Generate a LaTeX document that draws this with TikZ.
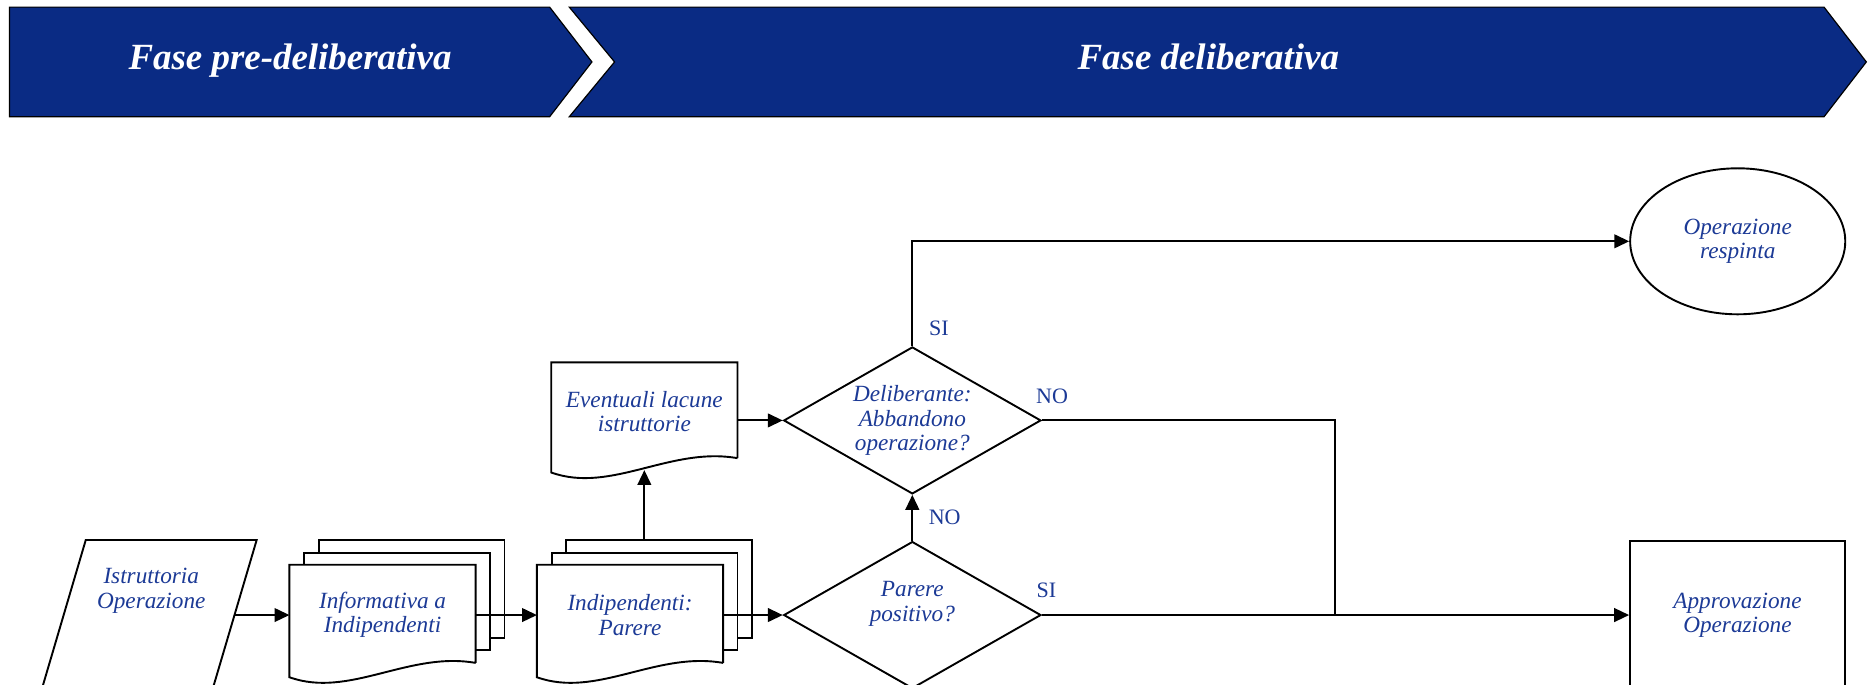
\documentclass[tikz,border=0pt]{standalone}
\usepackage{fontspec}
\setmainfont{Liberation Serif}
\usepackage{tikz}
\usetikzlibrary{shapes,arrows.meta,positioning,calc}
\definecolor{navy}{RGB}{10,43,132}
\definecolor{txtblue}{RGB}{28,58,150}
\tikzstyle{line} = [draw, line width=1.6pt]
\tikzstyle{arr} = [line, -{Triangle[length=12.5pt,width=11.5pt]}]
\tikzstyle{phase} = [fill=navy, draw=black, line width=1pt]
\tikzstyle{phasetext} = [text=white, font=\fontsize{31}{33}\selectfont\bfseries\itshape, inner sep=0pt, anchor=base]
\tikzstyle{flow} = [text=txtblue, font=\fontsize{19.5}{20.5}\selectfont\itshape, align=center, inner sep=0pt]
\tikzstyle{doc} = [flow, fill=white, minimum width=156pt, minimum height=84pt]
\tikzstyle{sheet} = [line, fill=white, minimum width=156pt, minimum height=82pt, inner sep=0pt]
\tikzstyle{decision} = [flow, line, diamond, aspect=1.75, minimum width=216pt, minimum height=123.4pt]
\tikzstyle{lbl} = [text=txtblue, font=\fontsize{18.5}{20}\selectfont, inner sep=0pt, anchor=base west]
\tikzset{>=latex}
\newcommand{\docline}[1]{%
  \draw[line] ([yshift=2pt]#1.south east) -- (#1.north east) -- (#1.north west) -- ([yshift=-10pt]#1.south west)
    .. controls ($(#1.south west)!0.32!(#1.south east)+(0pt,-28pt)$) and ($(#1.south west)!0.64!(#1.south east)+(0pt,12pt)$) .. ([yshift=2pt]#1.south east);}

\begin{document}
\begin{tikzpicture}[x=1pt, y=-1pt]
  \useasboundingbox (0,0) rectangle (1568.4,575.1);
  \clip (0,0) rectangle (1568.4,575.1);
  \fill[white] (0,0) rectangle (1568.4,575.1);
  \draw[phase] (8,6) -- (461.5,6) -- (497,52) -- (461.5,98) -- (8,98) -- cycle;
  \draw[phase] (478,6) -- (1531.5,6) -- (1567,52) -- (1531.5,98) -- (478,98) -- (516,52) -- cycle;
  \node[phasetext] (pre) at (243.5,58.2) {Fase pre-deliberativa};
  \node[phasetext] (delibphase) at (1014.5,58.2) {Fase deliberativa};

  \draw[line] (72,453.4) -- (215.5,453.4) -- (178.1,580) -- (34.7,580) -- cycle;
  \node[flow] (istr) at (127,496) {Istruttoria\\Operazione};
  \coordinate (istrout) at (196.9,516.4);

  \node[sheet] (info3) at (345.6,494.5) {};
  \node[sheet] (info2) at (333.4,505) {};
  \node[doc] (info) at (321.2,516.4) {Informativa a\\Indipendenti};
  \docline{info}

  \node[sheet] (indip3) at (553.4,494.5) {};
  \node[sheet] (indip2) at (541.2,505) {};
  \node[doc] (indip) at (529,516.4) {Indipendenti:\\Parere};
  \docline{indip}

  \node[doc, minimum height=82pt] (even) at (541,345.5) {Eventuali lacune\\istruttorie};
  \docline{even}

  \node[decision] (parere) at (766,516.4) {};
  \node[flow] (pareretxt) at (766,507) {Parere\\positivo?};
  \node[decision] (delib) at (766,353) {Deliberante:\\Abbandono\\operazione?};
  \node[flow, line, ellipse, minimum width=180.6pt, minimum height=122.6pt] (resp) at (1459,202.6) {Operazione\\respinta};
  \node[flow, line, minimum width=180.4pt, minimum height=124pt] (appr) at (1458.8,516.4) {Approvazione\\Operazione};
  \coordinate (join) at (1121.2,516.4);

  \draw[arr] (istrout) -- (info.west);
  \draw[arr] (info.east) -- (indip.west);
  \draw[arr] (indip.east) -- (parere.west);
  \draw[arr] (even |- indip3.north) -- ([yshift=-8pt]even.south);
  \draw[arr] (even.east |- delib.west) -- (delib.west);
  \draw[arr] (parere.north) -- (delib.south);
  \draw[arr] (delib.north) |- (resp.west);
  \draw[line] (delib.east) -| (join);
  \draw[arr] (parere.east) -- (appr.west);

  \node[lbl] (siup) at ([xshift=14pt,yshift=8.5pt]delib.north) {SI};
  \node[lbl] (noright) at ([xshift=-5pt,yshift=14.6pt]delib.east) {NO};
  \node[lbl] (nodown) at ([xshift=13.6pt,yshift=13.9pt]parere.north) {NO};
  \node[lbl] (siright) at ([xshift=-4.6pt,yshift=15pt]parere.east) {SI};
\end{tikzpicture}
\end{document}
